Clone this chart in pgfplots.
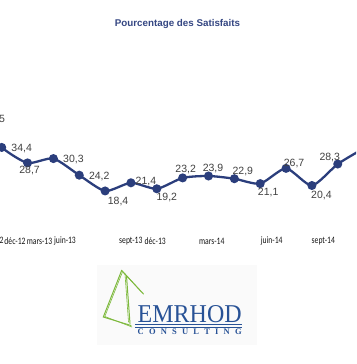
\documentclass[border=0pt]{standalone}
\usepackage{fontspec}
\setmainfont{Liberation Sans}
\newfontfamily\calib{Carlito}
\newfontfamily\serifx{Liberation Serif}
\usepackage{pgfplots}
\usepackage{pgfplotstable}
\pgfplotsset{compat=1.18}
\definecolor{navy}{RGB}{43,62,124}
\definecolor{ttl}{RGB}{52,70,130}
\definecolor{lgreen}{RGB}{125,185,60}
\definecolor{lblue}{RGB}{40,82,150}
\definecolor{lbl}{RGB}{64,64,64}
\newcommand\tl[1]{\scalebox{0.78}[1]{#1}}

\pgfplotstableread{
x y dx dy
0 44.5 19 0
1 34.4 20 -1
2 28.7 2 -8
3 30.3 20 -1
4 24.2 20 -1
5 18.4 13 -11
6 21.4 15 1
7 19.2 10 -9
8 23.2 3 8.5
9 23.9 4.5 7
10 22.9 8.5 7.5
11 21.1 8 -9
12 26.7 8 5
13 20.4 9.5 -9.5
14 28.3 -8 7
15 34.0 20 0
}\data

\begin{document}
\begin{tikzpicture}
\path[use as bounding box, clip] (0pt,0pt) rectangle (356pt,364pt);
\node[font=\bfseries\fontsize{9.8}{12}\selectfont, text=ttl, anchor=base] at (177.5pt,337pt) {Pourcentage des Satisfaits};
\begin{axis}[
  at={(0pt,123pt)}, anchor=south west, scale only axis,
  width=356pt, height=163.2pt,
  xmin=0.934, xmax=14.706, ymin=0, ymax=60, clip=false,
  axis line style={draw=none}, ytick=\empty, major tick length=0pt,
  xtick={1.5145,2.462,3.449,5.994,6.938,9.124,11.445,13.441},
  xticklabels={\tl{déc-12},\tl{mars-13},\tl{juin-13},\tl{sept-13},\tl{déc-13},\tl{mars-14},\tl{juin-14},\tl{sept-14}},
  xticklabel style={anchor=center, font=\calib\fontsize{9.8}{11}\selectfont, text=black!92, inner sep=0pt},
]
\addplot[navy, line width=2.3pt, smooth, tension=0.4,
  mark=*, mark size=3.3pt, mark options={fill=navy, draw=none},
  point meta=explicit,
  visualization depends on={\thisrow{dx} \as \dx},
  visualization depends on={\thisrow{dy} \as \dy},
  nodes near coords={\pgfmathprintnumber[fixed,precision=1,fixed zerofill,use comma,assume math mode=true]{\pgfplotspointmeta}},
  every node near coord/.append style={anchor=center, xshift=\dx pt, yshift=\dy pt, font=\fontsize{10.5}{12}\selectfont, text=lbl, inner sep=0pt},
] table[x=x, y=y, meta=y] {\data};
\node[anchor=center, inner sep=0pt, font=\calib\fontsize{9.8}{11}\selectfont, text=black!92] at (axis cs:0.625,0) {\tl{sept-12}};
\end{axis}
\begin{scope}[x=1pt,y=1pt]
\fill[gray!4] (97,19) rectangle (257,99);
\draw[lgreen, line width=1pt, line cap=round] (121.7,93.7) -- (103.3,47) -- (131,38.5);
\draw[lgreen, line width=0.6pt, line cap=round] (122.7,92.7) -- (104.8,47.5) -- (132,37);
\draw[lgreen, line width=1pt, line cap=round] (126.5,88) -- (130,40.5);
\draw[lgreen, line width=0.6pt, line cap=round] (125,90) -- (128.5,42);
\draw[lgreen, line width=1pt, line cap=round] (123,92) -- (143.5,70);
\draw[lgreen, line width=0.6pt, line cap=round] (121.5,94) -- (141,72.5);
\node[anchor=base west, inner sep=0pt, text=lblue] at (137.5,41.5) {\resizebox{104pt}{17pt}{\serifx EMRHOD}};
\draw[lblue, line width=1.2pt] (135,39.2) -- (242,39.2);
\draw[lblue, line width=0.6pt] (135,36.8) -- (242,36.8);
\node[anchor=base west, inner sep=0pt, text=lblue, font=\serifx\bfseries\fontsize{8.5}{9}\selectfont] at (137.5,29.5) {\makebox[104pt][s]{C\hfil O\hfil N\hfil S\hfil U\hfil L\hfil T\hfil I\hfil N\hfil G}};
\end{scope}
\end{tikzpicture}
\end{document}
